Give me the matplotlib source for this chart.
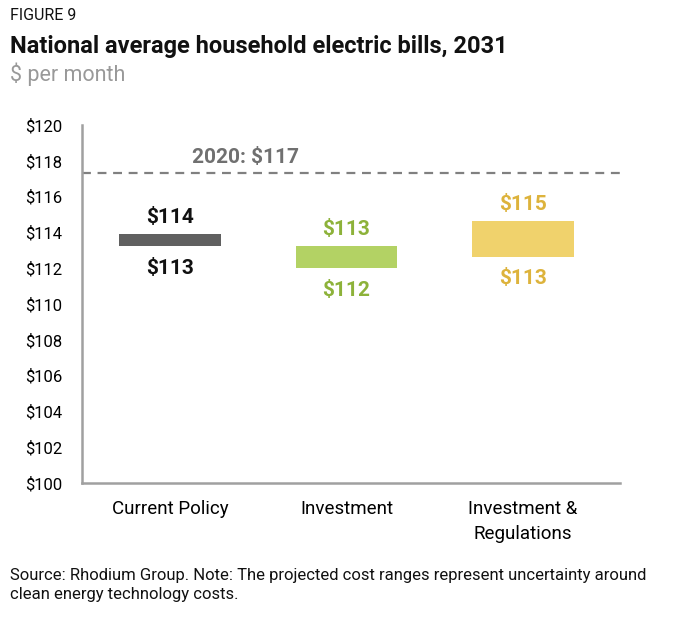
import matplotlib.pyplot as plt
import numpy as np

plt.rcParams['font.family'] = ['Roboto', 'DejaVu Sans']

# scenario ranges, $ per month (2031)
scenarios = ["Current Policy", "Investment", "Investment &\nRegulations"]
low = [113.25, 112.0, 112.65]
high = [113.9, 113.25, 114.65]
baseline_2020 = 117.3

bar_colors = ["#606060", "#b3d264", "#f0d26c"]
text_colors = ["#111111", "#8db23a", "#ddb33c"]

fig = plt.figure(figsize=(6.76, 6.32), dpi=100)
ax = fig.add_axes([0.1213, 0.2358, 0.7957, 0.5662])

x = np.arange(len(scenarios))
heights = np.array(high) - np.array(low)
ax.bar(x, heights, bottom=low, width=0.575, color=bar_colors)

for i in range(len(scenarios)):
    ax.annotate("$%d" % round(high[i]), (x[i], high[i]), xytext=(0, 12),
                textcoords="offset points", ha="center", va="center",
                fontsize=15, fontweight="bold", color=text_colors[i])
    ax.annotate("$%d" % round(low[i]), (x[i], low[i]), xytext=(0, -16),
                textcoords="offset points", ha="center", va="center",
                fontsize=15, fontweight="bold", color=text_colors[i])

# 2020 reference line
ax.axhline(baseline_2020, color="#808080", linestyle=(0, (4, 3)), linewidth=1.6)
ax.text(0.125, 118.2, "2020: $%d" % int(baseline_2020), ha="left", va="center",
        fontsize=15, fontweight="bold", color="#707070")

ax.set_xlim(-0.5, 2.55)
ax.set_ylim(100, 120)
ax.set_yticks(np.arange(100, 121, 2))
ax.set_yticklabels(["$%d" % v for v in range(100, 121, 2)])
ax.set_xticks(x)
ax.set_xticklabels(scenarios, linespacing=1.55)
ax.tick_params(axis="y", length=0, pad=14, labelsize=12)
ax.tick_params(axis="x", length=0, pad=12, labelsize=13.5)
for s in ["top", "right"]:
    ax.spines[s].set_visible(False)
for s in ["left", "bottom"]:
    ax.spines[s].set_color("#a0a0a0")
    ax.spines[s].set_linewidth(1.8)

fig.text(0.015, 0.975, "FIGURE 9", fontsize=11.5, va="center", color="#111111")
fig.text(0.015, 0.927, "National average household electric bills, 2031",
         fontsize=17, fontweight="bold", va="center", color="#111111")
fig.text(0.015, 0.882, "$ per month", fontsize=15.5, va="center", color="#999999")
fig.text(0.015, 0.074, "Source: Rhodium Group. Note: The projected cost ranges represent uncertainty around\nclean energy technology costs.",
         fontsize=12, va="center", linespacing=1.35, color="#111111")

fig.savefig("out.png", dpi=100)
